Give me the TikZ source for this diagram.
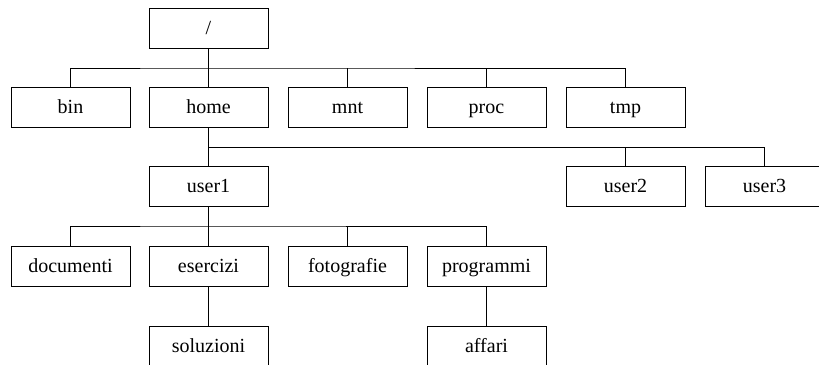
\documentclass[tikz,border=0pt]{standalone}
\usepackage{fontspec}
\setmainfont{Liberation Serif}
\begin{document}
\begin{tikzpicture}[x=1pt,y=-1pt,
  dirbox/.style={draw, line width=0.9pt, minimum width=119pt, minimum height=40pt, inner sep=0pt, text height=16pt, text depth=4pt, font=\fontsize{20}{23}\selectfont},
  conn/.style={line width=0.9pt}]
\useasboundingbox (0,0) rectangle (819,364);
\clip (0,0) rectangle (819,364);
\node[dirbox] (root) at (208.5,28) {/};
\node[dirbox] (bin) at (70.5,107.5) {bin};
\node[dirbox] (home) at (208.5,107.5) {home};
\node[dirbox] (mnt) at (347.5,107.5) {mnt};
\node[dirbox] (proc) at (486.5,107.5) {proc};
\node[dirbox] (tmp) at (625.5,107.5) {tmp};
\node[dirbox] (user1) at (208.5,186) {user1};
\node[dirbox] (user2) at (625.5,186) {user2};
\node[dirbox] (user3) at (764.5,186) {user3};
\node[dirbox] (documenti) at (70.5,266) {documenti};
\node[dirbox] (esercizi) at (208.5,266) {esercizi};
\node[dirbox] (fotografie) at (347.5,266) {fotografie};
\node[dirbox] (programmi) at (486.5,266) {programmi};
\node[dirbox] (soluzioni) at (208.5,346) {soluzioni};
\node[dirbox] (affari) at (486.5,346) {affari};
\coordinate (bar1) at (208.5,68);
\coordinate (bar2) at (208.5,147);
\coordinate (bar3) at (208.5,226);
\draw[conn] (root.south) -- (home.north);
\draw[conn] (bin.north) |- (bar1) -| (tmp.north);
\draw[conn] (mnt.north) -- (mnt.north |- bar1);
\draw[conn] (proc.north) -- (proc.north |- bar1);
\draw[conn] (home.south) -- (user1.north);
\draw[conn] (bar2) -| (user3.north);
\draw[conn] (user2.north) -- (user2.north |- bar2);
\draw[conn] (user1.south) -- (esercizi.north);
\draw[conn] (documenti.north) |- (bar3) -| (programmi.north);
\draw[conn] (fotografie.north) -- (fotografie.north |- bar3);
\draw[conn] (esercizi.south) -- (soluzioni.north);
\draw[conn] (programmi.south) -- (affari.north);
\end{tikzpicture}
\end{document}
